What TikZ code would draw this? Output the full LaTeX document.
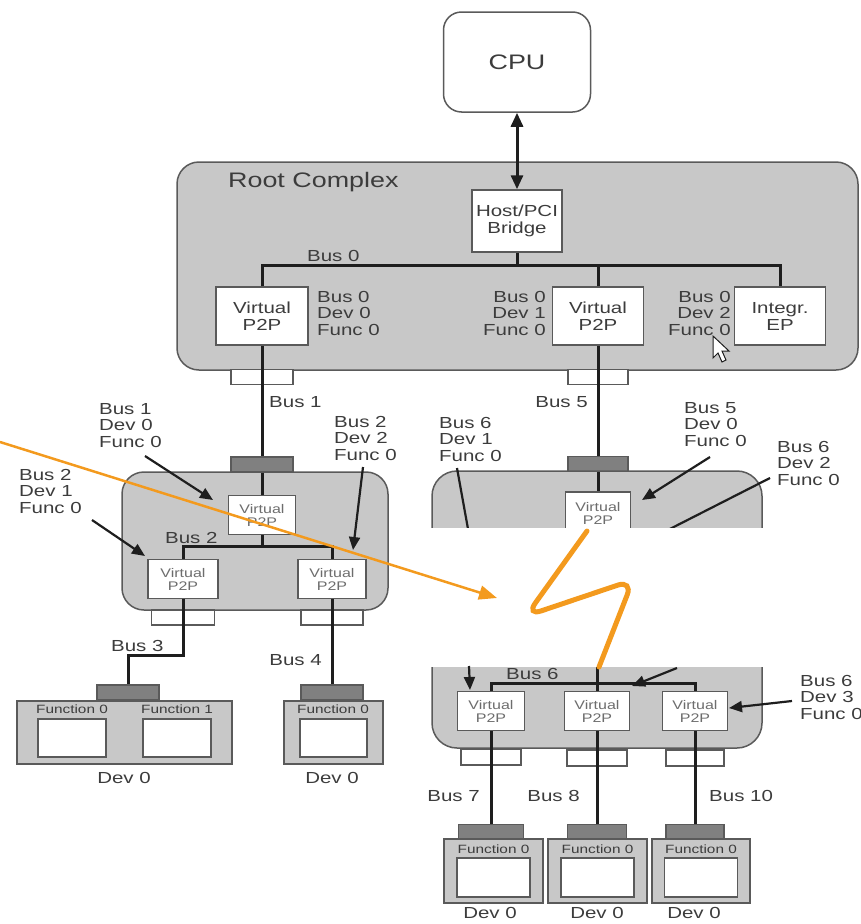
\documentclass[tikz,border=0pt]{standalone}
\usepackage{fontspec}
\setmainfont{Liberation Sans}[FakeStretch=1.28]
\usetikzlibrary{arrows.meta, positioning}
\definecolor{Panel} {HTML}{C8C8C8}
\definecolor{Edge}  {HTML}{5A5A5A}
\definecolor{Port}  {HTML}{808080}
\definecolor{Ink}   {HTML}{3C3C3C}
\definecolor{Wire}  {HTML}{1E1E1E}
\definecolor{Marker}{HTML}{F39A1E}

\tikzset{
  box/.style={draw=Edge, line width=1.5pt, fill=white, inner sep=0pt, align=center,
              text=Ink, font=\fontsize{16}{17}\selectfont},
  vbox/.style={box, minimum width=66pt, minimum height=39pt, text=Ink!75,
               font=\fontsize{12.5}{13}\selectfont},
  upport/.style={draw=Edge, line width=1.2pt, fill=Port, minimum width=62pt,
                 minimum height=15pt, inner sep=0pt},
  dnport/.style={upport, fill=white},
  devbox/.style={draw=Edge, line width=1.5pt, fill=Panel, inner sep=0pt},
  fnbox/.style={draw=Edge, line width=1.5pt, fill=white, inner sep=0pt},
  panel/.style={draw=Edge, line width=1.5pt, fill=Panel, rounded corners=22pt},
  bus/.style={draw=Wire, line width=3pt},
  note/.style={align=left, text=Ink, inner sep=0pt, font=\fontsize{16}{16.5}\selectfont},
  fn/.style={text=Ink, inner sep=0pt, font=\fontsize{12}{12}\selectfont},
  pointer/.style={draw=Wire, line width=2.2pt, -{Triangle[length=13pt, width=11pt]}}
}

\begin{document}
\begin{tikzpicture}[x=1pt, y=-1pt]
  \useasboundingbox (0,0) rectangle (861,924);

  % CPU and root complex
  \node[box, rounded corners=18pt, minimum width=147pt, minimum height=100pt,
        font=\fontsize{21}{21}\selectfont] (cpu) at (517,62) {CPU};
  \draw[panel] (177,162) rectangle (858,370);
  \node[note, anchor=west, font=\fontsize{21}{21}\selectfont] (rc) at (228,182) {Root Complex};
  \node[box, minimum width=90pt, minimum height=62pt] (host) at (517,221) {Host/PCI\\Bridge};
  \draw[Wire, line width=3pt, {Triangle[length=14pt,width=12pt]}-{Triangle[length=14pt,width=12pt]}]
    (cpu) -- (host);
  \node[box, minimum width=92pt, minimum height=58pt] (rvA) at (262,316) {Virtual\\P2P};
  \node[box, minimum width=91pt, minimum height=58pt] (rvB) at (598,316) {Virtual\\P2P};
  \node[box, minimum width=91pt, minimum height=58pt] (ep)  at (780,316) {Integr.\\EP};
  \coordinate (b0) at (517,265);
  \draw[bus] (rvA.north) |- (b0) -| (ep.north);
  \draw[bus] (host) -- (b0);
  \draw[bus] (rvB.north) -- (rvB.north |- b0);
  \node[note, anchor=south west] (l0) at (307,262) {Bus 0};
  \node[note, anchor=north west] (nA) at (317,291) {Bus 0\\Dev 0\\Func 0};
  \node[note, anchor=north east, align=right] (nB) at (546,291) {Bus 0\\Dev 1\\Func 0};
  \node[note, anchor=north east, align=right] (nC) at (731,291) {Bus 0\\Dev 2\\Func 0};
  % mouse pointer
  \draw[Wire, fill=white, line width=1pt] (713,336) -- (713,358) -- (718,353) -- (722,362)
    -- (726,360) -- (722,351) -- (729,351) -- cycle;
  \node[dnport] (rpA) at (262,377) {};
  \node[dnport, minimum width=60pt] (rpB) at (598,377) {};

  % left switch
  \node[upport] (upA) at (262,464.5) {};
  \draw[panel] (122,472) rectangle (388,610);
  \node[vbox, minimum width=67pt] (swA) at (262,515) {Virtual\\P2P};
  \node[vbox, minimum width=70pt] (swB) at (183,579) {Virtual\\P2P};
  \node[vbox, minimum width=68pt] (swC) at (332,579) {Virtual\\P2P};
  \node[dnport, minimum width=63pt] (dpA1) at (183,617.5) {};
  \node[dnport] (dpA2) at (332,617.5) {};
  \draw[bus] (rvA.south) -- (upA.north);
  \draw[bus] (upA.south) -- (swA.north);
  \coordinate (b2) at (262,546);
  \draw[bus] (swB.north) |- (b2) -| (swC.north);
  \draw[bus] (swA.south) -- (b2);
  \node[note, anchor=west] (l1) at (269,402) {Bus 1};
  \node[note, anchor=south west] (l2) at (165,544) {Bus 2};
  \node[note, anchor=north west] (nD) at (99,403) {Bus 1\\Dev 0\\Func 0};
  \node[note, anchor=north west] (nE) at (334,416) {Bus 2\\Dev 2\\Func 0};
  \node[note, anchor=north west] (nF) at (19,469) {Bus 2\\Dev 1\\Func 0};
  \coordinate (pD) at (145,456); \coordinate (qD) at (213,500);
  \coordinate (pE) at (363,467); \coordinate (qE) at (353,550);
  \coordinate (pF) at (92,520);  \coordinate (qF) at (145,556);
  \draw[pointer] (pD) -- (qD);
  \draw[pointer] (pE) -- (qE);
  \draw[pointer] (pF) -- (qF);

  % devices below the left switch
  \node[upport] (dpA) at (128,692.5) {};
  \node[devbox, minimum width=215pt, minimum height=63pt] (devA) at (124.5,732.5) {};
  \node[fnbox, minimum width=68pt, minimum height=38pt] (fA0) at (72,738) {};
  \node[fnbox, minimum width=68pt, minimum height=38pt] (fA1) at (177,738) {};
  \node[fn] (tA0) at (72,709) {Function 0};
  \node[fn] (tA1) at (177,709) {Function 1};
  \node[note] (dA) at (124,778) {Dev 0};
  \coordinate (b3) at (183,655);
  \draw[bus] (swB.south) -- (b3) -| (dpA.north);
  \node[note, anchor=south west] (l3) at (111,652) {Bus 3};
  \node[upport] (dpB) at (332,692.5) {};
  \node[devbox, minimum width=99pt, minimum height=63pt] (devB) at (333.5,732.5) {};
  \node[fnbox, minimum width=67pt, minimum height=38pt] (fB0) at (333.5,738) {};
  \node[fn] (tB0) at (333,709) {Function 0};
  \node[note] (dB) at (332,778) {Dev 0};
  \draw[bus] (swC.south) -- (dpB.north);
  \node[note, anchor=east] (l4) at (322,660) {Bus 4};

  % right switch, upper part
  \node[upport, minimum width=60pt] (upB) at (598,464) {};
  \begin{scope}
    \clip (420,440) rectangle (800,527);
    \draw[panel, rounded corners=25pt] (432,471) rectangle (762,620);
    \node[vbox, minimum width=65pt, minimum height=42pt] (fv) at (598,513) {Virtual\\P2P};
    \draw[Wire, line width=2.2pt] (457,468) -- (470,540);
    \draw[Wire, line width=2.2pt] (770,478) -- (660,534);
  \end{scope}
  \draw[bus] (rvB.south) -- (upB.north);
  \draw[bus] (upB.south) -- (fv.north);
  \node[note, anchor=east] (l5) at (588,402) {Bus 5};
  \node[note, anchor=north west] (nG) at (439,417) {Bus 6\\Dev 1\\Func 0};
  \node[note, anchor=north west] (nH) at (684,402) {Bus 5\\Dev 0\\Func 0};
  \node[note, anchor=north west] (nI) at (777,441) {Bus 6\\Dev 2\\Func 0};
  \coordinate (pH) at (710,457); \coordinate (qH) at (642,500);
  \draw[pointer] (pH) -- (qH);

  % right switch, lower part
  \begin{scope}
    \clip (420,667) rectangle (800,800);
    \draw[panel, rounded corners=25pt] (432,600) rectangle (762,748);
  \end{scope}
  \node[vbox, minimum width=67pt] (lv1) at (491,711) {Virtual\\P2P};
  \node[vbox, minimum width=65pt] (lv2) at (597,711) {Virtual\\P2P};
  \node[vbox, minimum width=65pt] (lv3) at (695,711) {Virtual\\P2P};
  \coordinate (b6) at (597,683);
  \coordinate (cut) at (599,667);
  \draw[bus] (lv1.north) |- (b6) -| (lv3.north);
  \draw[bus] (lv2.north) -- (lv2.north |- cut);
  \node[note, anchor=south west] (l6) at (506,680) {Bus 6};
  \node[note, anchor=north west] (nJ) at (800,675) {Bus 6\\Dev 3\\Func 0};
  \coordinate (pJ) at (469,666); \coordinate (qJ) at (470,690);
  \coordinate (pK) at (677,668); \coordinate (qK) at (632,686);
  \coordinate (pL) at (792,701); \coordinate (qL) at (729,708);
  \draw[pointer] (pJ) -- (qJ);
  \draw[pointer] (pK) -- (qK);
  \draw[pointer] (pL) -- (qL);

  % devices below the right switch
  \node[dnport, minimum width=60pt, minimum height=16pt] (lp1) at (491,757) {};
  \node[dnport, minimum width=60pt, minimum height=16pt] (lp2) at (597,758) {};
  \node[dnport, minimum width=58pt, minimum height=16pt] (lp3) at (695,758) {};
  \node[upport, minimum width=65pt] (ld1) at (491,832) {};
  \node[upport, minimum width=59pt] (ld2) at (597,832) {};
  \node[upport, minimum width=58pt] (ld3) at (695,832) {};
  \node[devbox, minimum width=99pt, minimum height=64pt] (dv1) at (493.5,871) {};
  \node[devbox, minimum width=99pt, minimum height=64pt] (dv2) at (597.5,871) {};
  \node[devbox, minimum width=98pt, minimum height=64pt] (dv3) at (701,871) {};
  \foreach \d in {dv1,dv2,dv3}{
    \node[fnbox, minimum width=73pt, minimum height=39pt] (\d f) at ([yshift=-6.5pt]\d.center) {};
    \node[fn] (\d t) at ([yshift=22pt]\d.center) {Function 0};
  }
  \node[note] (d1) at (490,913) {Dev 0};
  \node[note] (d2) at (597,913) {Dev 0};
  \node[note] (d3) at (694,913) {Dev 0};
  \draw[bus] (lv1.south) -- (ld1.north);
  \draw[bus] (lv2.south) -- (ld2.north);
  \draw[bus] (lv3.south) -- (ld3.north);
  \node[note, anchor=east] (l7)  at (480,796) {Bus 7};
  \node[note, anchor=east] (l8)  at (580,796) {Bus 8};
  \node[note, anchor=west] (l10) at (709,796) {Bus 10};

  % orange marks
  \coordinate (sq1) at (587,531);
  \draw[Marker, line width=5pt, line cap=round, rounded corners=16pt]
    (sq1) -- (526,616) -- (633,580) -- (cut);
  \coordinate (src) at (0,442); \coordinate (tip) at (497,598);
  \draw[Marker, line width=2.5pt, -{Triangle[length=18pt,width=14pt]}] (src) -- (tip);
\end{tikzpicture}
\end{document}
